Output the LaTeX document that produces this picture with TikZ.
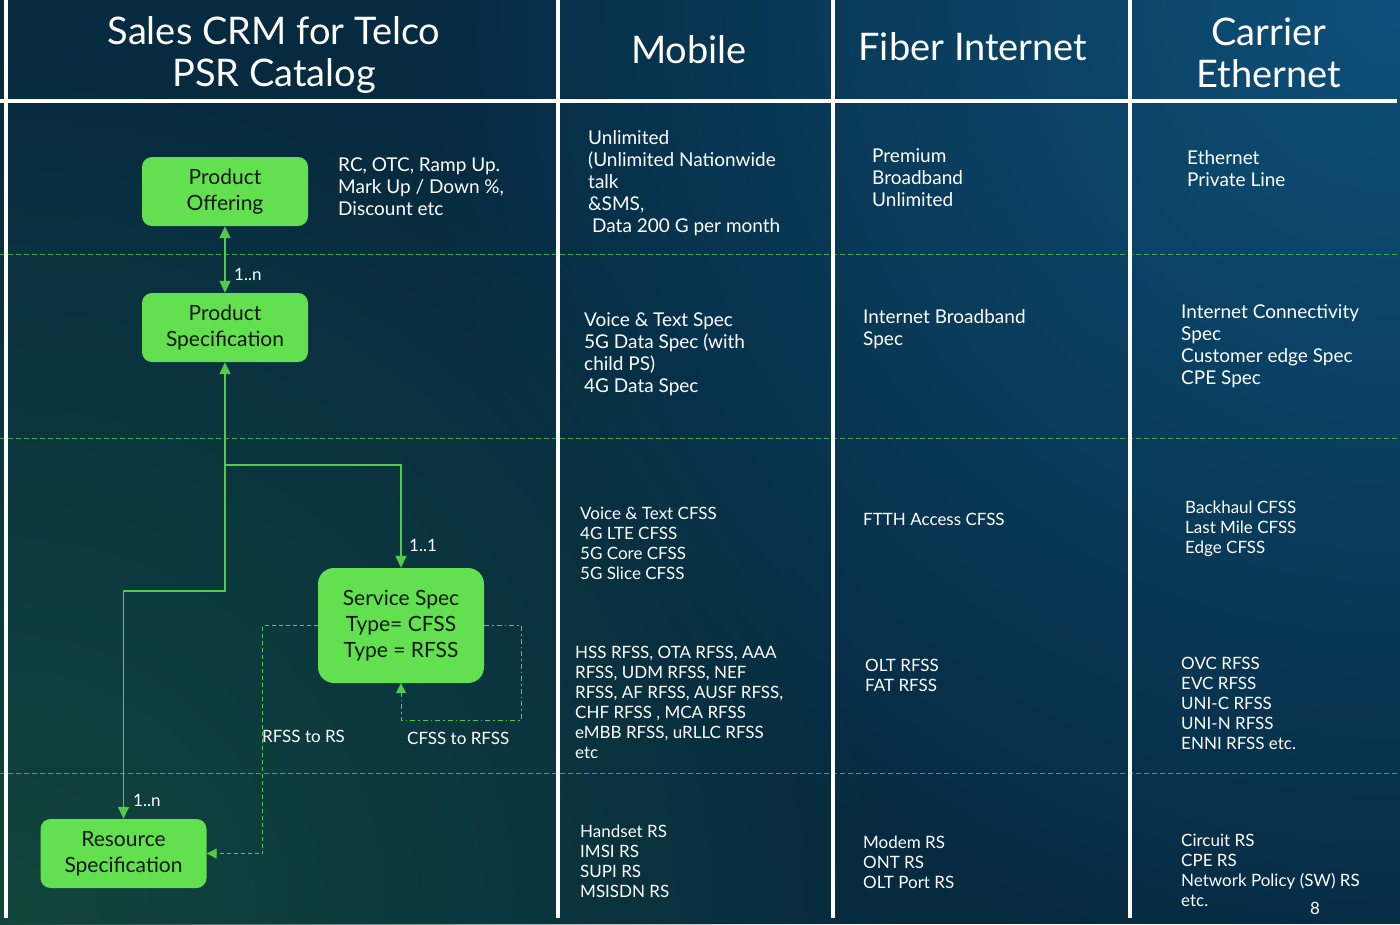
\documentclass[tikz,border=0pt]{standalone}
\usepackage{fontspec}
\setmainfont{Lato}
\usetikzlibrary{arrows.meta,calc,fadings}
\definecolor{bgbase}{RGB}{6,42,64}
\definecolor{bgTR}{RGB}{14,80,122}
\definecolor{bgBL}{RGB}{18,70,60}
\definecolor{boxgreen}{RGB}{98,224,80}
\definecolor{lgreen}{RGB}{82,204,72}
\definecolor{dgreen}{RGB}{64,168,84}
\definecolor{boxtext}{RGB}{16,24,16}
\tikzfading[name=radfade, inner color=transparent!0, outer color=transparent!100]
\tikzset{
  gtip/.tip={Triangle[length=12pt,width=11pt]},
  stip/.tip={Triangle[length=10pt,width=10pt]},
  box/.style={fill=boxgreen, rounded corners=10pt, minimum width=166pt, minimum height=69pt,
    align=center, font=\fontsize{21}{26}\selectfont, text=boxtext, inner sep=0pt},
  conn/.style={draw=lgreen, line width=1.4pt},
  dconn/.style={draw=lgreen, line width=1pt, dash pattern=on 4pt off 3pt},
  ddconn/.style={draw=lgreen, line width=1pt, dash pattern=on 5pt off 3pt on 1.5pt off 3pt},
  txt/.style={anchor=base west, align=left, text=white, inner sep=0pt, font=\fontsize{19}{22}\selectfont},
  txts/.style={anchor=base west, align=left, text=white, inner sep=0pt, font=\fontsize{17}{20}\selectfont},
  lbl/.style={text=white, inner sep=0pt, font=\fontsize{17}{20}\selectfont},
  hdr/.style={text=white, align=center, inner sep=0pt, font=\fontsize{38}{42}\selectfont},
  wline/.style={draw=white, line width=4pt},
  sep/.style={draw=dgreen, line width=1pt, dash pattern=on 5pt off 3pt}
}
\begin{document}
\begin{tikzpicture}[x=1pt,y=-1pt]
\useasboundingbox (0,0) rectangle (1400,924);
% background
\fill[bgbase] (0,0) rectangle (1400,924);
\begin{scope}
\clip (0,0) rectangle (1400,924);
\fill[bgTR, path fading=radfade] (1400,0) circle (1000pt);
\fill[bgBL, path fading=radfade] (0,924) circle (900pt);
\end{scope}
% dashed separators
\draw[sep] (0,254) -- (1400,254);
\draw[sep] (0,438) -- (1400,438);
\draw[sep] (0,773) -- (1400,773);
% white grid lines
\draw[wline] (0,101) -- (1397,101);
\draw[wline] (6,0) -- (6,918);
\draw[wline] (558,0) -- (558,918);
\draw[wline] (833,0) -- (833,918);
\draw[wline] (1130,0) -- (1130,918);
% headers
\node[hdr] (h1) at (274,55) {Sales CRM for Telco\\PSR Catalog};
\node[hdr] (h2) at (689,50) {Mobile};
\node[hdr] (h3) at (973,47) {Fiber Internet};
\node[hdr] (h4) at (1269,53) {Carrier\\Ethernet};
% boxes
\node[box] (po) at (225,191.5) {Product\\Offering};
\node[box] (ps) at (225,327.5) {Product\\Specification};
\node[box, minimum height=115pt, rounded corners=16pt] (ss) at (401,625.5) {Service Spec\\Type= CFSS\\Type = RFSS};
\node[box] (rs) at (123.5,853.5) {Resource\\Specification};
% connectors
\coordinate (j1) at (225,591);
\coordinate (j2) at (225,465);
\draw[conn, gtip-gtip] (po.south) -- (ps.north);
\draw[conn, gtip-gtip] (ps.south) -- (j1) -| (rs.north);
\draw[conn, -gtip] (j2) -| (ss.north);
\draw[dconn, -stip] (ss.west) -- ++(-55,0) |- (rs.east);
\draw[ddconn, -stip] (ss.east) -- ++(37,0) -- ++(0,94.5) -| (ss.south);
% connector labels
\node[lbl, anchor=west] (l1) at (234,274) {1..n};
\node[lbl, anchor=west] (l2) at (409,545) {1..1};
\node[lbl, anchor=west] (l3) at (133,800) {1..n};
\node[lbl, anchor=west] (l4) at (262,736) {RFSS to RS};
\node[lbl, anchor=west] (l5) at (407,738) {CFSS to RFSS};
% column 1 note (anchor = baseline of last line)
\node[txt] (n1) at (338,215) {RC, OTC, Ramp Up.\\Mark Up / Down \%,\\Discount etc};
% Mobile
\node[txt] (m1) at (588,232) {Unlimited\\(Unlimited Nationwide\\talk\\\&SMS,\\\hspace*{4pt}Data 200 G per month};
\node[txt] (m2) at (584,392) {Voice \& Text Spec\\5G Data Spec (with\\child PS)\\4G Data Spec};
\node[txts] (m3) at (580,579) {Voice \& Text CFSS\\4G LTE CFSS\\5G Core CFSS\\5G Slice CFSS};
\node[txts] (m4) at (575,758) {HSS RFSS, OTA RFSS, AAA\\RFSS, UDM RFSS, NEF\\RFSS, AF RFSS, AUSF RFSS,\\CHF RFSS , MCA RFSS\\eMBB RFSS, uRLLC RFSS\\etc};
\node[txts] (m5) at (580,897) {Handset RS\\IMSI RS\\SUPI RS\\MSISDN RS};
% Fiber
\node[txt] (f1) at (872,206) {Premium\\Broadband\\Unlimited};
\node[txt] (f2) at (863,345) {Internet Broadband\\Spec};
\node[txts] (f3) at (863,525) {FTTH Access CFSS};
\node[txts] (f4) at (865,691) {OLT RFSS\\FAT RFSS};
\node[txts] (f5) at (863,888) {Modem RS\\ONT RS\\OLT Port RS};
% Carrier
\node[txt] (c1) at (1187,186) {Ethernet\\Private Line};
\node[txt] (c2) at (1181,384) {Internet Connectivity\\Spec\\Customer edge Spec\\CPE Spec};
\node[txts] (c3) at (1185,553) {Backhaul CFSS\\Last Mile CFSS\\Edge CFSS};
\node[txts] (c4) at (1181,749) {OVC RFSS\\EVC RFSS\\UNI-C RFSS\\UNI-N RFSS\\ENNI RFSS etc.};
\node[txts] (c5) at (1181,906) {Circuit RS\\CPE RS\\Network Policy (SW) RS\\etc.};
\node[lbl] (pg) at (1315,908) {8};
\end{tikzpicture}
\end{document}
